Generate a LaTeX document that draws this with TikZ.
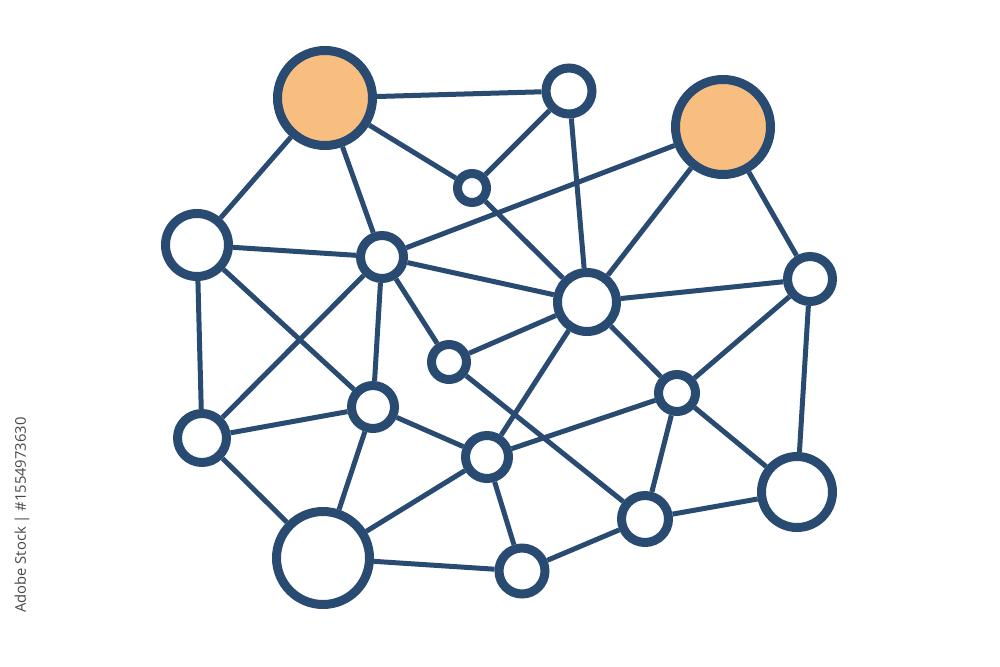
\documentclass[tikz,border=0pt]{standalone}
\usepackage{fontspec}
\setsansfont{Open Sans}
\usepackage{xcolor}
\usepackage{tikz}
\usetikzlibrary{positioning}
\definecolor{netblue}{HTML}{294B71}
\definecolor{netorange}{HTML}{F8BE80}
\tikzstyle{vertex} = [circle, draw=netblue, line width=2.7mm, fill=white, inner sep=0pt]
\tikzstyle{hub} = [vertex, fill=netorange]
\tikzstyle{link} = [draw=netblue, line width=1.5mm]

\begin{document}
\begin{tikzpicture}[x=0.3mm, y=-0.3mm]
    \useasboundingbox (0,0) rectangle (1000,667);

    \node (hub_left) [hub, minimum size=28.5mm] at (325,98) {};
    \node (hub_right) [hub, minimum size=28.5mm] at (723,127) {};
    \node (top) [vertex, minimum size=13.8mm] at (569,91) {};
    \node (top_small) [vertex, minimum size=8.7mm] at (472,188) {};
    \node (left_upper) [vertex, minimum size=18.9mm] at (197,245) {};
    \node (inner_upper) [vertex, minimum size=12.9mm] at (382,257) {};
    \node (center) [vertex, minimum size=17.7mm] at (587,302) {};
    \node (right_upper) [vertex, minimum size=13.5mm] at (810,279) {};
    \node (inner_small) [vertex, minimum size=10.5mm] at (449,362) {};
    \node (inner_lower) [vertex, minimum size=12.9mm] at (373,407) {};
    \node (right_mid) [vertex, minimum size=11.1mm] at (677,393) {};
    \node (left_lower) [vertex, minimum size=14.7mm] at (202,438) {};
    \node (lower_mid) [vertex, minimum size=12.9mm] at (487,457) {};
    \node (right_lower) [vertex, minimum size=21.3mm] at (797,492) {};
    \node (bottom_right) [vertex, minimum size=14.1mm] at (645,519) {};
    \node (bottom_big) [vertex, minimum size=27.9mm] at (323,558) {};
    \node (bottom) [vertex, minimum size=13.8mm] at (522,571) {};

    \node (stock_id) [rotate=90, text=black!72, font=\sffamily\fontsize{12.6}{13}\selectfont] at (22,515) {Adobe Stock | \#1554973630};

    \draw [link] (hub_left) -- (top);
    \draw [link] (hub_left) -- (left_upper);
    \draw [link] (hub_left) -- (inner_upper);
    \draw [link] (hub_left) -- (top_small);
    \draw [link] (top_small) -- (top);
    \draw [link] (top_small) -- (center);
    \draw [link] (top) -- (center);
    \draw [link] (inner_upper) -- (hub_right);
    \draw [link] (hub_right) -- (center);
    \draw [link] (hub_right) -- (right_upper);
    \draw [link] (left_upper) -- (inner_upper);
    \draw [link] (left_upper) -- (inner_lower);
    \draw [link] (left_upper) -- (left_lower);
    \draw [link] (inner_upper) -- (center);
    \draw [link] (inner_upper) -- (left_lower);
    \draw [link] (inner_upper) -- (inner_lower);
    \draw [link] (inner_upper) -- (inner_small);
    \draw [link] (inner_small) -- (center);
    \draw [link] (inner_small) -- (bottom_right);
    \draw [link] (center) -- (lower_mid);
    \draw [link] (center) -- (right_mid);
    \draw [link] (right_upper) -- (center);
    \draw [link] (right_upper) -- (right_mid);
    \draw [link] (right_upper) -- (right_lower);
    \draw [link] (inner_lower) -- (left_lower);
    \draw [link] (inner_lower) -- (lower_mid);
    \draw [link] (inner_lower) -- (bottom_big);
    \draw [link] (left_lower) -- (bottom_big);
    \draw [link] (lower_mid) -- (right_mid);
    \draw [link] (lower_mid) -- (bottom_big);
    \draw [link] (lower_mid) -- (bottom);
    \draw [link] (right_mid) -- (bottom_right);
    \draw [link] (right_mid) -- (right_lower);
    \draw [link] (bottom_right) -- (right_lower);
    \draw [link] (bottom) -- (bottom_right);
    \draw [link] (bottom_big) -- (bottom);
\end{tikzpicture}
\end{document}
